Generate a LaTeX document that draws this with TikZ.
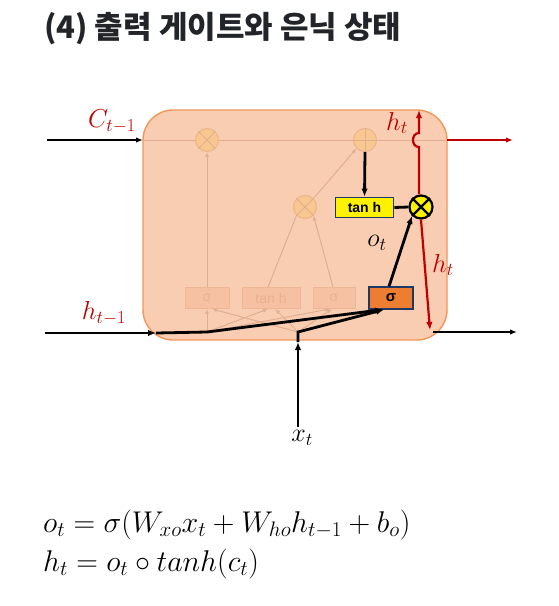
\RequirePackage{fix-cm}
\documentclass[tikz,border=0pt]{standalone}
\usepackage{fontspec}
\usetikzlibrary{arrows.meta}
\newfontfamily\krfont{Noto Sans CJK KR}
\newfontfamily\lsans{Liberation Sans}
\definecolor{cellfill}{RGB}{248,205,177}
\definecolor{celldraw}{RGB}{242,150,90}
\definecolor{fline}{RGB}{226,174,146}
\definecolor{fboxfill}{RGB}{246,193,162}
\definecolor{fboxdraw}{RGB}{238,182,150}
\definecolor{ftext}{RGB}{236,176,142}
\definecolor{fcircfill}{RGB}{249,200,145}
\definecolor{fcircdraw}{RGB}{236,180,136}
\definecolor{lred}{RGB}{192,0,0}
\definecolor{sigfill}{RGB}{237,125,49}
\definecolor{navy}{RGB}{32,56,100}
\definecolor{titlec}{RGB}{33,37,41}
\begin{document}
\begin{tikzpicture}[x=1pt,y=-1pt,
  arr/.style={-{Latex[length=8pt,width=6.5pt]}},
  thin arr/.style={-{Latex[length=7pt,width=5.5pt]}},
  farr/.style={-{Latex[length=5pt,width=4pt]}},
  cellbox/.style={draw=celldraw, line width=1.4pt, fill=cellfill, rounded corners=30pt,
    minimum width=304pt, minimum height=230pt, inner sep=0pt},
  fbox/.style={draw=fboxdraw, fill=fboxfill, line width=0.9pt, minimum height=21pt,
    inner sep=0pt, text=ftext, font=\lsans\fontsize{14}{15}\selectfont},
  fcirc/.style={circle, draw=fcircdraw, fill=fcircfill, line width=1pt, minimum size=23pt, inner sep=0pt},
  fl/.style={draw=fline, line width=1pt},
  lab/.style={font=\fontsize{26}{30}\selectfont},
  thick line/.style={line width=2.8pt, black},
]
\useasboundingbox[fill=white] (0,0) rectangle (558,606);

% title
\node[anchor=west, text=titlec, font=\krfont\bfseries\fontsize{31}{36}\selectfont, inner sep=0pt] (title) at (44,29) {(4) 출력 게이트와 은닉 상태};

% cell
\node[cellbox] (cell) at (295,225) {};

% faded horizontal cell line
\coordinate (cl) at (143,140);
\coordinate (cr) at (447,140);
\draw[fl] (cl) -- (cr);

% faded circles
\node[fcirc] (m1) at (207,140) {};
\draw[fl] (m1.north west) -- (m1.south east) (m1.north east) -- (m1.south west);
\node[fcirc] (p1) at (365,140) {};
\draw[fl] (p1.north) -- (p1.south) (p1.west) -- (p1.east);
\node[fcirc] (m2) at (305,207) {};
\draw[fl] (m2.north west) -- (m2.south east) (m2.north east) -- (m2.south west);

% faded boxes
\node[fbox, minimum width=44pt] (f1) at (207,298) {σ};
\node[fbox, minimum width=58pt] (f2) at (271,298) {tan h};
\node[fbox, minimum width=42pt] (f3) at (334,298) {σ};

% faded arrows
\draw[fl, farr] (f1.north) -- (m1.south);
\draw[fl, farr] (f3.north -| 333,0) -- (m2.south east);
\draw[fl] (f2.north -| 268,0) -- (m2.south west);
\draw[fl, farr] (m2.north east) -- (p1.south west);

% faded lower fan
\coordinate (hj) at (207,332);
\coordinate (xj) at (298,332);
\draw[fl, farr] (hj) -- (f1.south);
\draw[fl, farr] (hj) -- ([xshift=-3pt]f2.south);
\draw[fl, farr] (hj) -- ([xshift=-4pt]f3.south);
\draw[fl, farr] (xj) -- ([xshift=5pt]f1.south);
\draw[fl, farr] (xj) -- ([xshift=4pt]f2.south);
\draw[fl, farr] (xj) -- ([xshift=-2pt]f3.south);

% C_{t-1} input
\coordinate (cin) at (47,140);
\draw[black, line width=1.4pt, thin arr] (cin) -- (cl);
\node[lab, text=lred] (clab) at (112,121) {$C_{t-1}$};

% red output on cell line
\coordinate (cout) at (513,140);
\draw[lred, line width=1.4pt, thin arr] (cr) -- (cout);

% output sigma box
\node[draw=navy, fill=sigfill, line width=1.2pt, minimum width=44pt, minimum height=22pt, inner sep=0pt,
      font=\lsans\bfseries\fontsize{15}{16}\selectfont] (sig) at (391,298) {σ};

% tanh box
\node[draw=navy, fill=yellow, line width=1.8pt, minimum width=58pt, minimum height=20pt, inner sep=0pt,
      font=\lsans\bfseries\fontsize{14}{15}\selectfont] (th) at (364.5,207.5) {tan h};

% output multiply
\node[circle, draw=black, fill=yellow, line width=2.2pt, minimum size=23pt, inner sep=0pt] (om) at (421,207) {};
\draw[black, line width=2.2pt] (om.north west) -- (om.south east) (om.north east) -- (om.south west);

% black arrows
\draw[thick line, arr] (p1.south) -- (th.north);
\draw[thick line] (th.east) -- (om.west);
\draw[thick line, arr] ([xshift=-2pt]sig.north) -- (om.south west);
\node[lab] (olab) at (377,243) {$o_t$};

% h_{t-1} input
\coordinate (hin) at (45,333);
\coordinate (hedge) at (156,333);
\draw[thick line, arr] (hin) -- (hedge);
\draw[thick line, arr] (hedge) -- (hj) -- ([xshift=-8pt]sig.south);
\node[lab, text=lred] (hlab) at (104,313) {$h_{t-1}$};

% x_t input
\coordinate (xin) at (298,427);
\coordinate (xedge) at (298,342);
\draw[thick line, arr] (xin) -- (xedge);
\draw[thick line, arr] (xedge) -- (xj) -- ([xshift=-7pt]sig.south);
\node[lab] (xlab) at (302,438) {$x_t$};

% red h_t up with hop
\coordinate (hop1) at (419,147);
\coordinate (hop2) at (419,133);
\coordinate (htop) at (419,110);
\draw[lred, line width=2.2pt, arr] (om.north -| 419,0) -- (hop1) .. controls (411,147) and (411,133) .. (hop2) -- (htop);
\node[lab, text=lred] (htlab1) at (397,123) {$h_t$};

% red h_t down
\coordinate (hbot) at (430,330);
\draw[lred, line width=2.2pt, arr] (om.south) -- (hbot);
\node[lab, text=lred] (htlab2) at (443,265) {$h_t$};

% black h_t output
\coordinate (hst) at (433,332);
\coordinate (hout) at (517,332);
\draw[black, line width=1.4pt, thin arr] (hst) -- (hout);

% equations
\node[anchor=base west, inner sep=0pt, font=\fontsize{30}{36}\selectfont] (eq1) at (43,532)
  {$o_t = \sigma(W_{xo}x_t + W_{ho}h_{t-1} + b_o)$};
\node[anchor=base west, inner sep=0pt, font=\fontsize{30}{36}\selectfont] (eq2) at (43,571)
  {$h_t = o_t \circ tanh(c_t)$};
\end{tikzpicture}
\end{document}
